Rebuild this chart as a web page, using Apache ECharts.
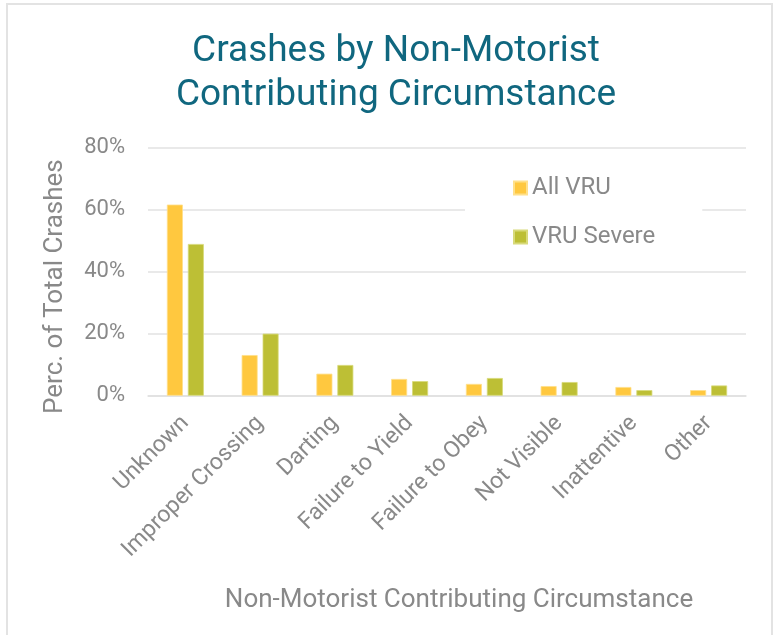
<!DOCTYPE html>
<html>
<head>
<meta charset="utf-8">
<script src="https://cdn.jsdelivr.net/npm/echarts@6/dist/echarts.min.js"></script>
<style>
    html, body { margin: 0; padding: 0; background: #fff; }
    #main { position: absolute; left: 0; top: 0; width: 777px; height: 635px; }
    #frame { position: absolute; left: 6px; top: 3px; width: 767px; height: 640px; border: 2px solid #e3e3e3; box-sizing: border-box; pointer-events: none; }
</style>
</head>
<body>
<div id="main"></div>
<div id="frame"></div>
<script>
// categories and percentages
var categories = ['Unknown', 'Improper Crossing', 'Darting', 'Failure to Yield', 'Failure to Obey', 'Not Visible', 'Inattentive', 'Other'];
var allVru = [61.6, 13.1, 7.1, 5.4, 3.8, 3.1, 2.8, 1.8];
var vruSevere = [48.9, 20.0, 9.9, 4.7, 5.7, 4.4, 1.8, 3.3];
var yTicks = [0, 20, 40, 60, 80];

var chart = echarts.init(document.getElementById('main'));
var grey = '#898989';

var option = {
    animation: false,
    color: ['#FFC83F', '#BDBF35'],
    title: {
        text: 'Crashes by Non-Motorist\nContributing Circumstance',
        left: 391,
        textAlign: 'center',
        top: 25,
        textStyle: {
            fontFamily: 'Roboto',
            fontWeight: 'normal',
            fontSize: 37,
            lineHeight: 44,
            color: '#10677F'
        }
    },
    legend: {
        orient: 'vertical',
        left: 465,
        top: 164,
        padding: [12, 47, 12, 48],
        backgroundColor: '#fff',
        itemWidth: 13,
        itemHeight: 13,
        itemGap: 25,
        icon: 'rect',
        textStyle: { fontFamily: 'Roboto', fontSize: 24, color: grey },
        data: ['All VRU', 'VRU Severe']
    },
    grid: {
        left: 148,
        right: 31,
        top: 147.5,
        bottom: 239.3,
        containLabel: false
    },
    xAxis: {
        type: 'category',
        data: categories,
        name: 'Non-Motorist Contributing Circumstance',
        nameLocation: 'middle',
        nameGap: 192,
        nameTextStyle: { fontFamily: 'Roboto', fontSize: 26, color: grey, padding: [0, 0, 0, 24] },
        axisLine: { lineStyle: { color: '#e0e0e0', width: 1.5 } },
        axisTick: { show: false },
        axisLabel: {
            rotate: 45,
            interval: 0,
            margin: 24,
            fontFamily: 'Roboto',
            fontSize: 23,
            color: grey
        }
    },
    yAxis: {
        type: 'value',
        min: 0,
        max: 80,
        interval: 20,
        name: 'Perc. of Total Crashes',
        nameLocation: 'middle',
        nameGap: 80,
        nameTextStyle: { fontFamily: 'Roboto', fontSize: 26, color: grey, padding: [0, 30, 0, 0] },
        axisLine: { show: false },
        axisTick: { show: false },
        splitLine: { lineStyle: { color: '#e2e2e2', width: 1.5 } },
        axisLabel: {
            margin: 23,
            fontFamily: 'Roboto',
            fontSize: 22,
            color: grey,
            formatter: function (v) {
                return yTicks.indexOf(v) >= 0 ? v + '%' : '';
            }
        }
    },
    series: [{
        name: 'All VRU',
        type: 'bar',
        barWidth: 16,
        barGap: '31%',
        itemStyle: { borderColor: '#FFE08A', borderWidth: 0.8 },
        data: allVru
    }, {
        name: 'VRU Severe',
        type: 'bar',
        barWidth: 16,
        itemStyle: { borderColor: '#D8DA7A', borderWidth: 0.8 },
        data: vruSevere
    }]
};
chart.setOption(option);
</script>
</body>
</html>
